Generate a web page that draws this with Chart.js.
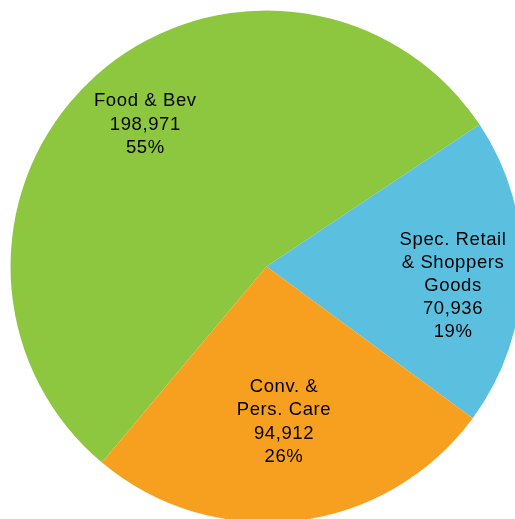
<!DOCTYPE html>
<html>
<head>
<meta charset="utf-8">
<script src="https://cdn.jsdelivr.net/npm/chart.js@4/dist/chart.umd.min.js"></script>
<style>
  html, body { margin: 0; padding: 0; background: #ffffff; overflow: hidden; width: 515px; height: 519px; }
  #wrap { position: absolute; left: 0; top: 0; width: 533px; height: 533px; }
</style>
</head>
<body>
<div id="wrap"><canvas id="pie" width="533" height="533"></canvas></div>
<script>
// Sales by store category
const categories = ['Food & Bev', 'Spec. Retail & Shoppers Goods', 'Conv. & Pers. Care'];
const labelLines = [
  ['Food & Bev'],
  ['Spec. Retail', '& Shoppers', 'Goods'],
  ['Conv. &', 'Pers. Care']
];
const sales = [198971, 70936, 94912];
const sliceColors = ['#8dc63f', '#5bc0df', '#f7a020'];

const total = sales.reduce((a, b) => a + b, 0);
const fmt = new Intl.NumberFormat('en-US');

// Writes name, value and share inside each slice
const sliceLabels = {
  id: 'sliceLabels',
  afterDatasetsDraw(chart, args, opts) {
    const ctx = chart.ctx;
    const meta = chart.getDatasetMeta(0);
    ctx.save();
    ctx.font = opts.font;
    ctx.fillStyle = opts.color;
    ctx.textAlign = 'center';
    ctx.textBaseline = 'alphabetic';
    if ('letterSpacing' in ctx) ctx.letterSpacing = opts.letterSpacing;
    meta.data.forEach((arc, i) => {
      const p = arc.getProps(['x', 'y', 'startAngle', 'endAngle', 'outerRadius'], true);
      const mid = (p.startAngle + p.endAngle) / 2 + opts.angleShift[i];
      const r = p.outerRadius * opts.radiusFraction[i];
      const cx = p.x + Math.cos(mid) * r;
      const cy = p.y + Math.sin(mid) * r;
      const lines = labelLines[i].concat([fmt.format(sales[i]), Math.round(sales[i] / total * 100) + '%']);
      const h = opts.lineHeight;
      // centre the block of lines on the label point
      const y0 = cy - (lines.length - 1) * h / 2 + opts.capHeight / 2;
      lines.forEach((t, k) => ctx.fillText(t, cx, y0 + k * h));
    });
    ctx.restore();
  }
};

new Chart(document.getElementById('pie'), {
  type: 'pie',
  data: {
    labels: categories,
    datasets: [{
      data: sales,
      backgroundColor: sliceColors,
      borderWidth: 0,
      hoverOffset: 0
    }]
  },
  options: {
    responsive: false,
    animation: false,
    devicePixelRatio: 1,
    rotation: 220,
    layout: { padding: 10.5 },
    events: [],
    plugins: {
      legend: { display: false },
      tooltip: { enabled: false },
      sliceLabels: {
        font: '18.5px Arial, "Liberation Sans", sans-serif',
        color: '#000000',
        letterSpacing: '0.6px',
        lineHeight: 23.2,
        capHeight: 13.2,
        radiusFraction: [0.734, 0.732, 0.605],
        angleShift: [0.029, 0.072, 0.006]
      }
    }
  },
  plugins: [sliceLabels]
});
</script>
</body>
</html>
